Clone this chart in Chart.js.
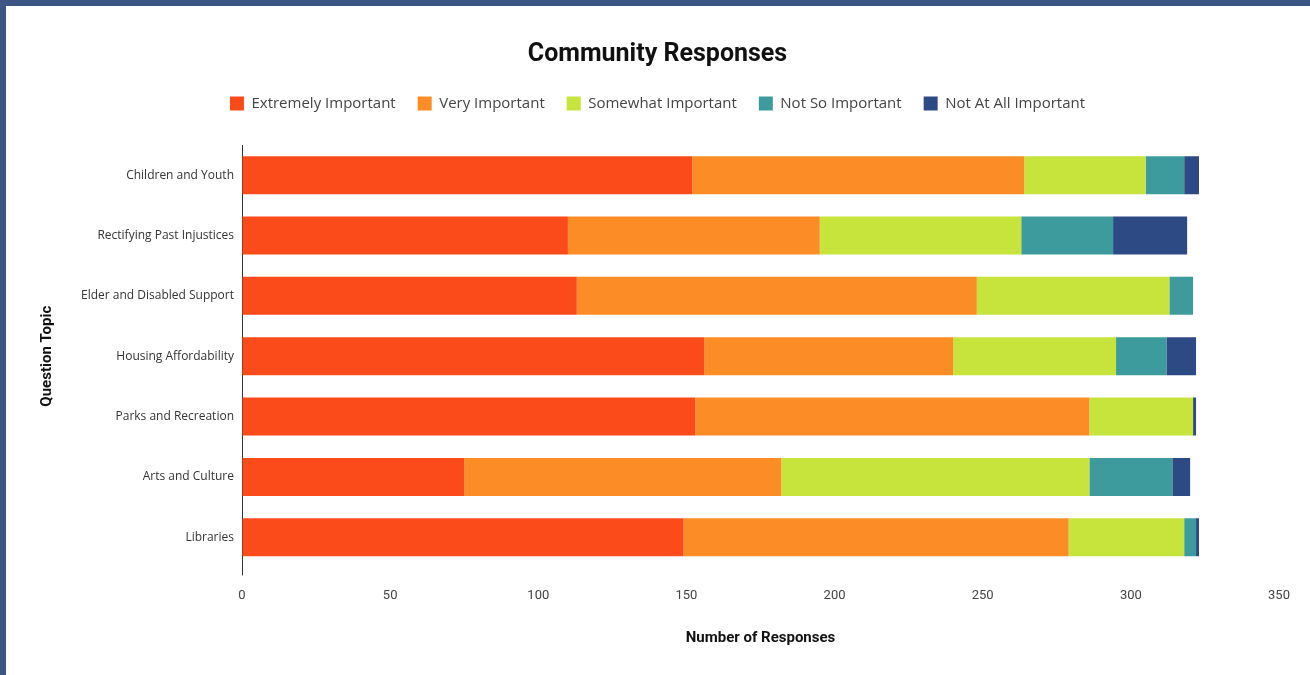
<!DOCTYPE html>
<html>
<head>
<meta charset="utf-8">
<script src="https://cdn.jsdelivr.net/npm/chart.js@4/dist/chart.umd.min.js"></script>
<style>
    html, body { margin: 0; padding: 0; background: #fff; }
    body {
        width: 1304px;
        height: 669px;
        border-left: 6px solid #3e5686;
        border-top: 6px solid #3e5686;
        overflow: hidden;
    }
    #wrap { position: relative; width: 1304px; height: 669px; }
</style>
</head>
<body>
<div id="wrap"><canvas id="responsesChart"></canvas></div>
<script>
// Question topics (top to bottom)
const topics = [
    'Children and Youth',
    'Rectifying Past Injustices',
    'Elder and Disabled Support',
    'Housing Affordability',
    'Parks and Recreation',
    'Arts and Culture',
    'Libraries'
];

// Responses per rating
const extremelyImportant = [152, 110, 113, 156, 153, 75, 149];
const veryImportant      = [112, 85, 135, 84, 133, 107, 130];
const somewhatImportant  = [41, 68, 65, 55, 35, 104, 39];
const notSoImportant     = [13, 31, 8, 17, 0, 28, 4];
const notAtAllImportant  = [5, 25, 0, 10, 1, 6, 1];

const xTicks = [0, 50, 100, 150, 200, 250, 300, 350];

const seriesNames = ['Extremely Important', 'Very Important', 'Somewhat Important', 'Not So Important', 'Not At All Important'];
const seriesColors = ['#fb4b1b', '#fb8c26', '#c6e43c', '#3d9b9d', '#2e4a84'];
const seriesValues = [extremelyImportant, veryImportant, somewhatImportant, notSoImportant, notAtAllImportant];

Chart.defaults.font.family = 'Roboto, "Noto Sans", sans-serif';
Chart.defaults.color = '#444';

// extra space under the legend
const legendSpacer = {
    id: 'legendSpacer',
    beforeInit(chart) {
        const origFit = chart.legend.fit;
        chart.legend.fit = function () {
            origFit.bind(chart.legend)();
            this.height += 24;
        };
    }
};

const ctx = document.getElementById('responsesChart').getContext('2d');
new Chart(ctx, {
    type: 'bar',
    data: {
        labels: topics,
        datasets: seriesNames.map((name, i) => ({
            label: name,
            data: seriesValues[i],
            backgroundColor: seriesColors[i],
            borderWidth: 0,
            barPercentage: 0.63,
            categoryPercentage: 1
        }))
    },
    options: {
        indexAxis: 'y',
        responsive: true,
        maintainAspectRatio: false,
        animation: false,
        layout: {
            padding: { left: 30, right: 31, top: 0, bottom: 0 }
        },
        plugins: {
            title: {
                display: true,
                text: 'Community Responses',
                color: '#111',
                font: { size: 25, weight: 'bold' },
                padding: { top: 34, bottom: 4 }
            },
            legend: {
                position: 'top',
                labels: {
                    boxWidth: 14,
                    boxHeight: 14,
                    padding: 22,
                    color: '#444',
                    font: { family: '"Open Sans", Roboto, sans-serif', size: 15 }
                }
            },
            tooltip: { enabled: false }
        },
        scales: {
            x: {
                stacked: true,
                min: 0,
                max: 350,
                afterBuildTicks(scale) {
                    scale.ticks = xTicks.map(v => ({ value: v }));
                },
                grid: {
                    display: true,
                    drawOnChartArea: false,
                    drawTicks: true,
                    tickLength: 8,
                    color: c => c.index === 0 ? '#333' : 'rgba(0,0,0,0)'
                },
                border: { display: false },
                ticks: {
                    padding: 13,
                    color: '#444',
                    font: { size: 13 }
                },
                title: {
                    display: true,
                    text: 'Number of Responses',
                    color: '#111',
                    font: { size: 15, weight: 'bold' },
                    padding: { top: 12, bottom: 28 }
                }
            },
            y: {
                stacked: true,
                grid: { display: false, drawTicks: false },
                border: { display: true, color: '#333', width: 1 },
                ticks: {
                    padding: 8,
                    color: '#333',
                    font: { family: '"Open Sans", Roboto, sans-serif', size: 12 }
                },
                title: {
                    display: true,
                    text: 'Question Topic',
                    color: '#111',
                    font: { size: 15, weight: 'bold' },
                    padding: { top: 2, bottom: 4 }
                },
                afterFit(scale) {
                    scale.width = 206;
                }
            }
        }
    },
    plugins: [legendSpacer]
});
</script>
</body>
</html>
